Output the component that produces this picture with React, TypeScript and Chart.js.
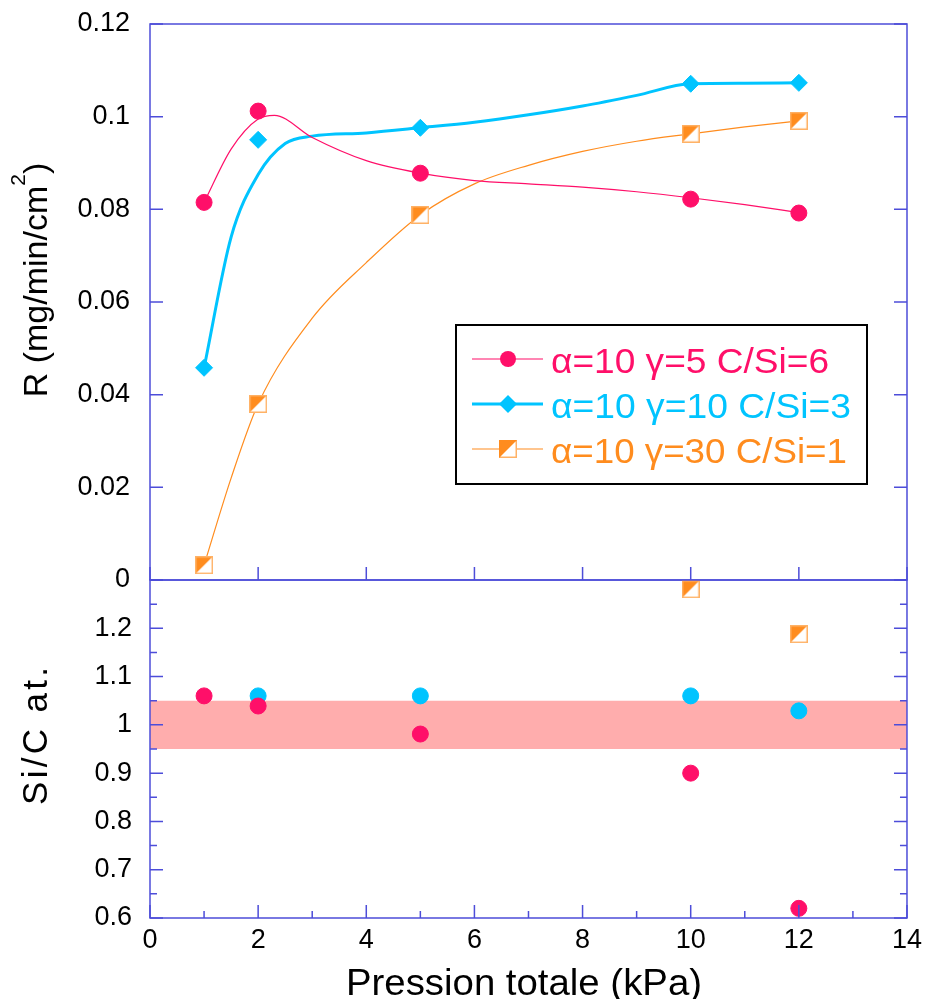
import React, { useEffect, useRef } from 'react';
import { Chart, registerables } from 'chart.js';

Chart.register(...registerables);

// ---------------- data ----------------
const pressures = [1, 2, 5, 10, 12];
const rateA = [0.0815, 0.1012, 0.0878, 0.0822, 0.0792];
const rateB = [0.0458, 0.095, 0.0976, 0.1071, 0.1073];
const rateC = [0.0032, 0.038, 0.0788, 0.0963, 0.0991];

// fitted curves
const fitAx = [1, 1.5, 2, 2.3, 3, 4, 5, 6, 7, 8, 9, 10, 11, 12];
const fitAy = [0.0815, 0.093, 0.0995, 0.1003, 0.0955, 0.0905, 0.0878, 0.0862, 0.0855, 0.0848, 0.0838, 0.0825, 0.081, 0.0793];
const fitBx = [1, 1.5, 2, 2.5, 3, 4, 5, 6, 7, 8, 9, 10, 11, 12];
const fitBy = [0.0458, 0.074, 0.0875, 0.0942, 0.0958, 0.0965, 0.0976, 0.0988, 0.1004, 0.1023, 0.1046, 0.1071, 0.1072, 0.1073];
const fitCx = [1, 1.5, 2, 3, 4, 5, 6, 7, 8, 9, 10, 11, 12];
const fitCy = [0.0032, 0.022, 0.038, 0.0565, 0.0685, 0.0788, 0.0855, 0.0895, 0.0925, 0.0947, 0.0963, 0.0978, 0.0991];

const sicAx = [1, 2, 5, 10, 12];
const sicA = [1.06, 1.039, 0.981, 0.9, 0.62];
const sicBx = [2, 5, 10, 12];
const sicB = [1.06, 1.06, 1.06, 1.029];
const sicCx = [10, 12];
const sicC = [1.281, 1.188];
const bandLow = 0.95;
const bandHigh = 1.05;

const xRange = [0, 14];
const xStep = 2;
const rRange = [0, 0.12];
const rStep = 0.02;
const sicRange = [0.6, 1.3];
const sicStep = 0.1;

const legendLabels = ['α=10 γ=5 C/Si=6', 'α=10 γ=10 C/Si=3', 'α=10 γ=30 C/Si=1'];
const xTitle = 'Pression totale (kPa)';
const sicTitle = 'Si/C at.';

// ---------------- styles ----------------
const FONT = '"Liberation Sans", Arial, sans-serif';
const PINK = '#ff0f69';
const BLUE = '#00c4ff';
const ORANGE = '#ff8c1e';
const ORANGE_EDGE = '#ffb266';
const BAND = '#ffadad';
const FRAME = '#4d4dd9';

const pts = (xs: number[], ys: number[]) => xs.map((x, i) => ({ x, y: ys[i] }));
const fmt = (v: number) => String(Number(Number(v).toFixed(3)));

function halfSquare(): HTMLCanvasElement {
  const c = document.createElement('canvas');
  c.width = 18;
  c.height = 18;
  const g = c.getContext('2d')!;
  g.fillStyle = '#fff';
  g.fillRect(0, 0, 18, 18);
  g.fillStyle = ORANGE;
  g.beginPath();
  g.moveTo(0, 0);
  g.lineTo(18, 0);
  g.lineTo(0, 18);
  g.closePath();
  g.fill();
  g.strokeStyle = ORANGE_EDGE;
  g.lineWidth = 1.5;
  g.strokeRect(0.75, 0.75, 16.5, 16.5);
  return c;
}

function framePlugin(minorX: boolean, minorY: boolean) {
  return {
    id: 'frame',
    afterDraw(chart: any) {
      const { ctx, chartArea: a, scales } = chart;
      const xs = scales.x;
      const ys = scales.y;
      ctx.save();
      ctx.strokeStyle = FRAME;
      ctx.lineWidth = 1.5;
      ctx.strokeRect(a.left, a.top, a.right - a.left, a.bottom - a.top);
      ctx.beginPath();
      const yv: number[] = ys.ticks.map((t: any) => t.value);
      const yTick = (v: number, len: number) => {
        const p = ys.getPixelForValue(v);
        ctx.moveTo(a.left, p);
        ctx.lineTo(a.left + len, p);
        ctx.moveTo(a.right, p);
        ctx.lineTo(a.right - len, p);
      };
      yv.forEach((v) => yTick(v, 13));
      if (minorY) for (let i = 0; i < yv.length - 1; i++) yTick((yv[i] + yv[i + 1]) / 2, 7);
      const xv: number[] = xs.ticks.map((t: any) => t.value);
      const xTick = (v: number, len: number) => {
        const p = xs.getPixelForValue(v);
        ctx.moveTo(p, a.bottom);
        ctx.lineTo(p, a.bottom - len);
      };
      xv.forEach((v) => xTick(v, 13));
      if (minorX) for (let i = 0; i < xv.length - 1; i++) xTick((xv[i] + xv[i + 1]) / 2, 7);
      ctx.stroke();
      ctx.restore();
    },
  };
}

const tickFont = { family: FONT, size: 27, lineHeight: 1.2 };

export default function App() {
  const topRef = useRef<HTMLCanvasElement>(null);
  const botRef = useRef<HTMLCanvasElement>(null);

  useEffect(() => {
    const sq = halfSquare();
    const marker = (color: string, style: any, r: number) => ({
      showLine: false,
      pointStyle: style,
      pointRadius: r,
      pointBackgroundColor: color,
      pointBorderColor: color,
      pointBorderWidth: 1,
      backgroundColor: color,
      borderColor: color,
    });
    const curve = (color: string, w: number) => ({
      showLine: true,
      pointRadius: 0,
      borderColor: color,
      borderWidth: w,
      cubicInterpolationMode: 'monotone' as const,
      fill: false,
    });

    const top = new Chart(topRef.current!, {
      type: 'scatter',
      data: {
        datasets: [
          { data: pts(pressures, rateA), ...marker(PINK, 'circle', 8) },
          { data: pts(pressures, rateB), ...marker(BLUE, 'rectRot', 8.5) },
          { data: pts(pressures, rateC), ...marker(ORANGE, sq, 9) },
          { data: pts(fitAx, fitAy), ...curve(PINK, 1.2) },
          { data: pts(fitBx, fitBy), ...curve(BLUE, 3) },
          { data: pts(fitCx, fitCy), ...curve(ORANGE, 1.2) },
        ] as any,
      },
      options: {
        responsive: false,
        animation: false,
        layout: { padding: { left: 0, right: 21, top: 40, bottom: 40 } },
        plugins: { legend: { display: false }, tooltip: { enabled: false } },
        scales: {
          x: {
            type: 'linear',
            min: xRange[0],
            max: xRange[1],
            afterFit: (s: any) => { s.height = 0; },
            grid: { display: false, drawTicks: false },
            border: { display: false },
            ticks: { stepSize: xStep, display: false },
          },
          y: {
            type: 'linear',
            min: rRange[0],
            max: rRange[1],
            afterFit: (s: any) => { s.width = 150; },
            grid: { display: false, drawTicks: false },
            border: { display: false },
            ticks: { stepSize: rStep, padding: 20, color: '#000', font: tickFont, callback: (v: any) => fmt(v) },
          },
        } as any,
      },
      plugins: [framePlugin(false, false)],
    });

    const bot = new Chart(botRef.current!, {
      type: 'scatter',
      data: {
        datasets: [
          { data: pts(sicAx, sicA), ...marker(PINK, 'circle', 8) },
          { data: pts(sicBx, sicB), ...marker(BLUE, 'circle', 8) },
          { data: pts(sicCx, sicC), ...marker(ORANGE, sq, 9) },
          {
            data: [
              { x: xRange[0], y: bandHigh },
              { x: xRange[1], y: bandHigh },
            ],
            showLine: true,
            pointRadius: 0,
            borderWidth: 0,
            borderColor: 'rgba(0,0,0,0)',
            backgroundColor: BAND,
            fill: { value: bandLow },
          },
        ] as any,
      },
      options: {
        responsive: false,
        animation: false,
        layout: { padding: { left: 0, right: 21, top: 40, bottom: 0 } },
        plugins: { legend: { display: false }, tooltip: { enabled: false } },
        scales: {
          x: {
            type: 'linear',
            min: xRange[0],
            max: xRange[1],
            afterFit: (s: any) => { s.height = 81; },
            grid: { display: false, drawTicks: false },
            border: { display: false },
            ticks: { stepSize: xStep, padding: 6, color: '#000', font: tickFont, maxRotation: 0, autoSkip: false, callback: (v: any) => fmt(v) },
          },
          y: {
            type: 'linear',
            min: sicRange[0],
            max: sicRange[1],
            afterFit: (s: any) => { s.width = 150; },
            grid: { display: false, drawTicks: false },
            border: { display: false },
            ticks: {
              stepSize: sicStep,
              padding: 18,
              color: '#000',
              font: tickFont,
              callback: (v: any) => (Math.abs(v - sicRange[1]) < 1e-6 ? '' : fmt(v)),
            },
          },
        } as any,
      },
      plugins: [framePlugin(true, true)],
    });

    return () => {
      top.destroy();
      bot.destroy();
    };
  }, []);

  const rowY = [359, 404, 449];
  const textW = [278, 300, 296];
  const colors = [PINK, BLUE, ORANGE];

  return (
    <div style={{ position: 'absolute', left: 0, top: 0, width: 928, height: 999, background: '#fff', overflow: 'hidden' }}>
      <canvas ref={topRef} width={928} height={636} style={{ position: 'absolute', left: 0, top: -16, width: 928, height: 636 }} />
      <canvas ref={botRef} width={928} height={459} style={{ position: 'absolute', left: 0, top: 540, width: 928, height: 459 }} />
      <svg width={928} height={999} style={{ position: 'absolute', left: 0, top: 0, pointerEvents: 'none' }} fontFamily={FONT}>
        <text transform="translate(47,280) rotate(-90)" textAnchor="middle" fontSize={34} fill="#000">
          R (mg/min/cm<tspan fontSize={21} dy={-22}>2</tspan><tspan dy={22}>)</tspan>
        </text>
        <text transform="translate(47,736) rotate(-90)" textAnchor="middle" fontSize={35} fill="#000" textLength={138} lengthAdjust="spacing">
          {sicTitle}
        </text>
        <text x={524} y={995} textAnchor="middle" fontSize={36} fill="#000" textLength={356} lengthAdjust="spacingAndGlyphs">
          {xTitle}
        </text>
        <rect x={456} y={325} width={411} height={159} fill="#fff" stroke="#000" strokeWidth={2} />
        <line x1={472} x2={543} y1={rowY[0]} y2={rowY[0]} stroke={PINK} strokeWidth={1.2} />
        <circle cx={508} cy={rowY[0]} r={8} fill={PINK} />
        <line x1={472} x2={543} y1={rowY[1]} y2={rowY[1]} stroke={BLUE} strokeWidth={3} />
        <polygon points={`499,${rowY[1]} 508,${rowY[1] - 9} 517,${rowY[1]} 508,${rowY[1] + 9}`} fill={BLUE} />
        <line x1={472} x2={543} y1={rowY[2]} y2={rowY[2]} stroke={ORANGE} strokeWidth={1.2} />
        <rect x={499.75} y={rowY[2] - 8.25} width={16.5} height={16.5} fill="#fff" stroke={ORANGE_EDGE} strokeWidth={1.5} />
        <polygon points={`499,${rowY[2] - 9} 517,${rowY[2] - 9} 499,${rowY[2] + 9}`} fill={ORANGE} />
        {legendLabels.map((t, i) => (
          <text key={t} x={551} y={rowY[i] + 14} fontSize={35} fill={colors[i]} textLength={textW[i]} lengthAdjust="spacingAndGlyphs">
            {t}
          </text>
        ))}
      </svg>
    </div>
  );
}
